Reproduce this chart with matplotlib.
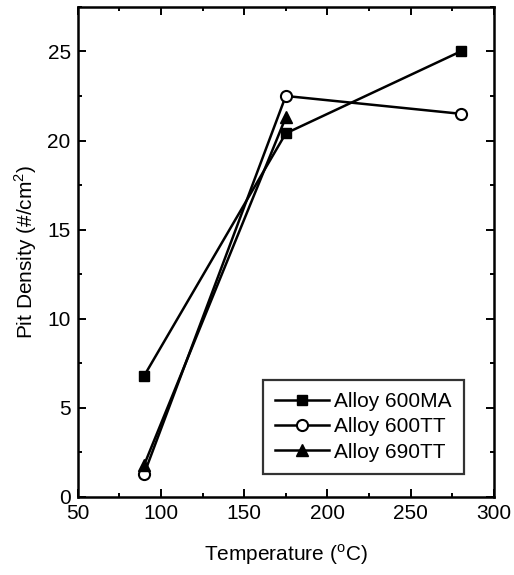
import numpy as np
import matplotlib.pyplot as plt
from matplotlib.ticker import MultipleLocator

plt.rcParams['font.family'] = ['Liberation Sans', 'DejaVu Sans']

# temperatures (C) and pit densities (#/cm^2)
temp = [90, 175, 280]
ma600 = [6.8, 20.4, 25.0]
tt600 = [1.3, 22.5, 21.5]
temp690 = [90, 175]
tt690 = [1.8, 21.3]

fig = plt.figure(figsize=(5.14, 5.75), dpi=100)
ax = fig.add_axes([0.151, 0.136, 0.810, 0.852])

ax.plot(temp, ma600, '-s', color='black', lw=1.8, ms=7, label='Alloy 600MA')
ax.plot(temp, tt600, '-o', color='black', lw=1.8, ms=8, mfc='white', mew=1.5, label='Alloy 600TT')
ax.plot(temp690, tt690, '-^', color='black', lw=1.8, ms=8, label='Alloy 690TT')

ax.set_xlim(50, 300)
ax.set_ylim(0, 27.5)
ax.xaxis.set_major_locator(MultipleLocator(50))
ax.xaxis.set_minor_locator(MultipleLocator(25))
ax.yaxis.set_major_locator(MultipleLocator(5))
ax.yaxis.set_minor_locator(MultipleLocator(2.5))
ax.tick_params(which='both', direction='in', top=True, right=True, width=1.4)
ax.tick_params(which='major', length=6, labelsize=15, pad=5)
ax.tick_params(which='minor', length=3)
for s in ax.spines.values():
    s.set_linewidth(1.8)

ax.set_xlabel('Temperature ($^\\mathregular{o}$C)', fontsize=15, labelpad=14)
ax.set_ylabel('Pit Density (#/cm$^\\mathregular{2}$)', fontsize=15, labelpad=6)

leg = ax.legend(loc='lower right', bbox_to_anchor=(0.952, 0.025), fontsize=15,
                frameon=True, fancybox=False, edgecolor='black',
                handlelength=2.6, handletextpad=0.2, borderpad=0.6,
                labelspacing=0.3)
leg.get_frame().set_linewidth(1.6)

fig.savefig('out.png', dpi=100)
